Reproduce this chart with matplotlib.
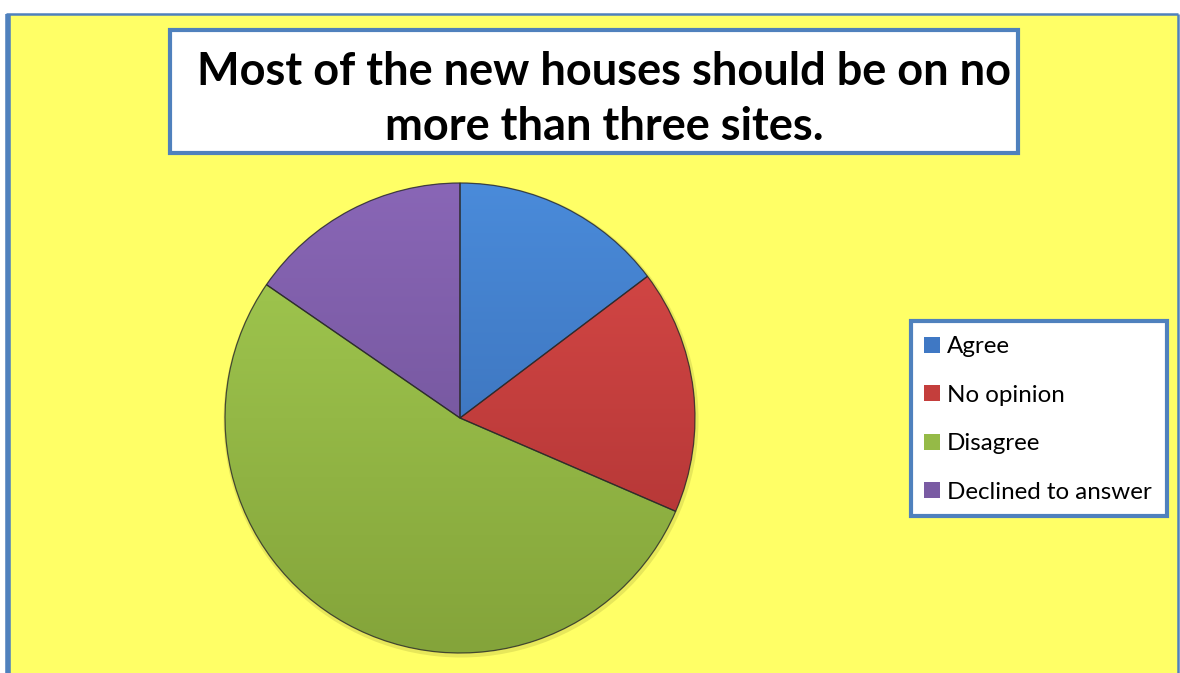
import numpy as np
import matplotlib
matplotlib.use("Agg")
import matplotlib.pyplot as plt
from matplotlib.patches import Rectangle, Wedge
from matplotlib.colors import LinearSegmentedColormap

# ---- data ----
title = "Most of the new houses should be on no\nmore than three sites."
categories = ["Agree", "No opinion", "Disagree", "Declined to answer"]
values = [14.7, 16.8, 53.1, 15.4]
top_colors = ["#4A8BDA", "#DA4A48", "#A4CC52", "#8966B6"]
bottom_colors = ["#3465AA", "#A93131", "#84A43A", "#684D8E"]
mid_colors = ["#3F78C4", "#C43E3C", "#95BA47", "#7A5BA3"]

W, H = 1180, 673
fig = plt.figure(figsize=(W / 100, H / 100), dpi=100)
fig.patch.set_facecolor("white")
ax = fig.add_axes([0, 0, 1, 1])
ax.set_xlim(0, W)
ax.set_ylim(0, H)
ax.axis("off")

BLUE = "#4F81BD"
YEL = "#FFFF66"

def py(y):
    return H - y

# background panel
ax.add_patch(Rectangle((7, py(H + 10)), 1171, (H + 10) - 14, facecolor=YEL,
                       edgecolor="none", zorder=0))
ax.plot([7.5, 7.5], [py(14), py(H + 5)], color=BLUE, lw=4, solid_capstyle="butt", zorder=1)
ax.plot([6, 1178], [py(14), py(14)], color=BLUE, lw=1.8, solid_capstyle="butt", zorder=1)
ax.plot([1178, 1178], [py(14), py(H + 5)], color=BLUE, lw=1.8, solid_capstyle="butt", zorder=1)

# title box
ax.add_patch(Rectangle((170, py(153)), 848, 123, facecolor="white",
                       edgecolor=BLUE, lw=3, zorder=2))
ax.text(604, py(99.5), title, ha="center", va="center", fontsize=32.5,
        fontweight="bold", family="Lato", linespacing=1.4, zorder=3)

# pie
cx, cy, R = 460, py(418), 235
wedges, _ = ax.pie(values, center=(cx, cy), radius=R, startangle=90,
                   counterclock=False, colors=mid_colors,
                   wedgeprops=dict(edgecolor="none", zorder=4))
ax.set_aspect("equal")
ax.axis("off")

# soft shadow
ax.add_patch(plt.Circle((cx + 1, cy - 2), R + 2.5, facecolor="#b0b040", alpha=0.3,
                        edgecolor="none", zorder=3))

grad = np.linspace(0, 1, 256).reshape(-1, 1)
for w, tc, bc in zip(wedges, top_colors, bottom_colors):
    cmap = LinearSegmentedColormap.from_list("g", [tc, bc])
    im = ax.imshow(grad, cmap=cmap, extent=(cx - R, cx + R, cy - R, cy + R),
                   origin="upper", aspect="auto", zorder=5, interpolation="bilinear")
    im.set_clip_path(w)
    ax.add_patch(Wedge(w.center, w.r, w.theta1, w.theta2, facecolor="none",
                       edgecolor="#2a2a2a", lw=0.9, alpha=0.8, zorder=6))
ax.set_xlim(0, W)
ax.set_ylim(0, H)

# legend box
ax.add_patch(Rectangle((911, py(516)), 256, 195, facecolor="white",
                       edgecolor=BLUE, lw=3, zorder=7))
leg = ax.legend(wedges, categories, loc="upper left",
                bbox_to_anchor=(912 / W, 1 - 324 / H), frameon=False,
                prop=dict(family="Lato", size=17.4), handlelength=0.65,
                handleheight=0.65, handletextpad=0.3, labelspacing=1.14,
                borderpad=0)
leg.set_zorder(8)

fig.savefig("out.png", dpi=100, facecolor="white")
